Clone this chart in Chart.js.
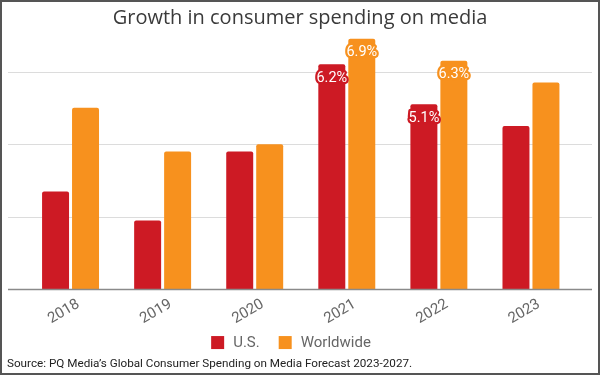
<!DOCTYPE html>
<html>
<head>
<meta charset="utf-8">
<script src="https://cdn.jsdelivr.net/npm/chart.js@4"></script>
<style>
  html, body { margin: 0; padding: 0; background: #fff; }
  #wrap { width: 600px; height: 375px; position: relative; }
</style>
</head>
<body>
<div id="wrap"><canvas id="c" width="600" height="375"></canvas></div>
<script>
const years = ['2018', '2019', '2020', '2021', '2022', '2023'];
const usValues = [2.7, 1.9, 3.8, 6.2, 5.1, 4.5];
const worldValues = [5.0, 3.8, 4.0, 6.9, 6.3, 5.7];
const usLabels = [null, null, null, '6.2%', '5.1%', null];
const worldLabels = [null, null, null, '6.9%', '6.3%', null];
const seriesNames = ['U.S.', 'Worldwide'];
const titleText = 'Growth in consumer spending on media';
const sourceText = 'Source: PQ Media\u2019s Global Consumer Spending on Media Forecast 2023-2027.';
const gridValues = [2, 4, 6];

const RED = '#CD1A24';
const ORANGE = '#F7911E';

const extrasPlugin = {
  id: 'extras',
  beforeDraw(chart) {
    const ctx = chart.ctx;
    ctx.save();
    ctx.fillStyle = '#fff';
    ctx.fillRect(0, 0, chart.width, chart.height);
    ctx.restore();
  },
  beforeDatasetsDraw(chart) {
    const ctx = chart.ctx, y = chart.scales.y, a = chart.chartArea;
    ctx.save();
    ctx.strokeStyle = '#dcdcdc';
    ctx.lineWidth = 1;
    gridValues.forEach(v => {
      const py = Math.round(y.getPixelForValue(v)) + 0.5;
      ctx.beginPath();
      ctx.moveTo(a.left - 16.5, py);
      ctx.lineTo(a.right + 15, py);
      ctx.stroke();
    });
    ctx.restore();
  },
  afterDatasetsDraw(chart) {
    const ctx = chart.ctx, y = chart.scales.y, a = chart.chartArea;
    ctx.save();
    const by = y.getPixelForValue(0);
    ctx.strokeStyle = '#8a8a8a';
    ctx.lineWidth = 1.5;
    ctx.beginPath();
    ctx.moveTo(a.left - 16.5, by);
    ctx.lineTo(a.right + 15, by);
    ctx.stroke();
    const labelSets = [usLabels, worldLabels];
    ctx.font = '14.5px Roboto';
    ctx.textAlign = 'center';
    ctx.textBaseline = 'middle';
    ctx.lineJoin = 'round';
    chart.data.datasets.forEach((ds, di) => {
      const meta = chart.getDatasetMeta(di);
      meta.data.forEach((el, i) => {
        const t = labelSets[di][i];
        if (!t) return;
        const px = el.x, py = el.y + 14;
        ctx.strokeStyle = ds.backgroundColor;
        ctx.lineWidth = 4.5;
        ctx.strokeText(t, px, py);
        ctx.fillStyle = '#fff';
        ctx.fillText(t, px, py);
      });
    });
    ctx.font = '15px Roboto';
    ctx.textAlign = 'left';
    const items = chart.data.datasets.map(ds => ({ label: ds.label, color: ds.backgroundColor, w: ctx.measureText(ds.label).width }));
    const box = 13, gapText = 9, gapItem = 19;
    let total = 0;
    items.forEach((it, i) => { total += box + gapText + it.w + (i < items.length - 1 ? gapItem : 0); });
    let x = 291 - total / 2;
    const ly = a.bottom + 53;
    items.forEach(it => {
      ctx.fillStyle = it.color;
      ctx.fillRect(x, ly - box / 2, box, box);
      x += box + gapText;
      ctx.fillStyle = '#666';
      ctx.fillText(it.label, x, ly + 1);
      x += it.w + gapItem;
    });
    ctx.restore();
  },
  afterDraw(chart) {
    const ctx = chart.ctx;
    ctx.save();
    ctx.strokeStyle = '#555';
    ctx.lineWidth = 2;
    ctx.strokeRect(1, 1, chart.width - 2, chart.height - 2);
    ctx.restore();
  }
};

new Chart(document.getElementById('c'), {
  type: 'bar',
  data: {
    labels: years,
    datasets: [
      { label: seriesNames[0], data: usValues, backgroundColor: RED, borderRadius: { topLeft: 2, topRight: 2 }, borderSkipped: 'bottom' },
      { label: seriesNames[1], data: worldValues, backgroundColor: ORANGE, borderRadius: { topLeft: 2, topRight: 2 }, borderSkipped: 'bottom' }
    ]
  },
  options: {
    responsive: false,
    animation: false,
    devicePixelRatio: 1,
    datasets: { bar: { categoryPercentage: 0.651, barPercentage: 0.9 } },
    layout: { padding: { left: 7, right: 7, top: 0, bottom: 0 } },
    plugins: {
      legend: { display: false },
      tooltip: { enabled: false },
      title: {
        display: true,
        text: titleText,
        color: '#3a3a3a',
        font: { family: 'Open Sans', size: 20, weight: 'normal' },
        padding: { top: 6, bottom: 5.2 }
      },
      subtitle: {
        display: true,
        text: sourceText,
        position: 'bottom',
        align: 'start',
        color: '#222',
        font: { family: 'Roboto', size: 11.7, weight: 'normal' },
        padding: { top: 0, bottom: 3.5 }
      }
    },
    scales: {
      x: {
        grid: { display: false },
        border: { display: false },
        ticks: {
          color: '#666',
          font: { family: 'Roboto', size: 15 },
          minRotation: 30,
          maxRotation: 30,
          labelOffset: 8,
          padding: -2
        },
        afterFit(s) { s.height = 67.9; }
      },
      y: {
        min: 0,
        max: 7,
        ticks: { display: false, stepSize: 2 },
        grid: { display: false },
        border: { display: false },
        afterFit(s) { s.width = 17.5; }
      },
      y2: {
        position: 'right',
        display: true,
        ticks: { display: false },
        grid: { display: false },
        border: { display: false },
        afterFit(s) { s.width = 16; }
      }
    }
  },
  plugins: [extrasPlugin]
});
</script>
</body>
</html>
